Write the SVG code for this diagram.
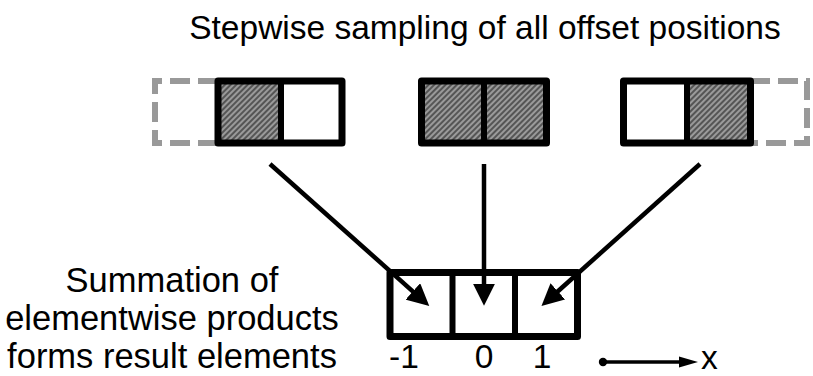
<svg xmlns="http://www.w3.org/2000/svg" width="813" height="376" viewBox="0 0 813 376">
  <style>
    text { font-family: "Liberation Sans", Arial, sans-serif; font-size: 33.5px; fill: #000; }
    .caption { font-size: 34.5px; }
    .cell { fill: none; stroke: #000; stroke-width: 7; stroke-linejoin: round; }
    .hatch { fill: url(#hatch); }
    .ghost { fill: none; stroke: #999; stroke-width: 6; stroke-dasharray: 20 8; }
    .divider { stroke: #000; stroke-width: 6; }
    .conn { stroke: #000; stroke-width: 4.5; fill: none; }
  </style>
  <defs>
    <pattern id="hatch" patternUnits="userSpaceOnUse" width="4" height="4" patternTransform="rotate(-45)">
      <rect width="4" height="4" fill="#555"/>
      <rect width="4" height="2" fill="#9a9a9a"/>
    </pattern>
    <marker id="head" markerUnits="userSpaceOnUse" viewBox="0 -11 22 22" markerWidth="22" markerHeight="22" refX="1" refY="0" orient="auto">
      <path d="M0,-11 L22,0 L0,11 Z" fill="#000"/>
    </marker>
    <marker id="axisHead" markerUnits="userSpaceOnUse" viewBox="0 -6 19 12" markerWidth="19" markerHeight="12" refX="1" refY="0" orient="auto">
      <path d="M0,-5.5 L19,0 L0,5.5 Z" fill="#000"/>
    </marker>
  </defs>

  <text id="title" x="485" y="39" text-anchor="middle">Stepwise sampling of all offset positions</text>

  <!-- kernel shifted left: ghost cell beyond the edge -->
  <g id="kernel-left">
    <path class="ghost" d="M218,81 H155 V143 H218"/>
    <rect class="hatch" x="218" y="81" width="63" height="62"/>
    <rect class="cell" x="218" y="81" width="124" height="62"/>
    <line class="divider" x1="281" y1="81" x2="281" y2="143"/>
  </g>

  <!-- kernel centred -->
  <g id="kernel-centre">
    <rect class="hatch" x="421.5" y="81" width="125" height="62"/>
    <rect class="cell" x="421.5" y="81" width="125" height="62"/>
    <line class="divider" x1="484" y1="81" x2="484" y2="143"/>
  </g>

  <!-- kernel shifted right: ghost cell beyond the edge -->
  <g id="kernel-right">
    <path class="ghost" d="M750,81 H807 V143 H750"/>
    <rect class="hatch" x="687" y="81" width="63.5" height="62"/>
    <rect class="cell" x="623.5" y="81" width="127" height="62"/>
    <line class="divider" x1="687" y1="81" x2="687" y2="143"/>
  </g>

  <!-- result vector -->
  <g id="result">
    <rect class="cell" x="390" y="272.5" width="187.5" height="64" style="fill:#fff"/>
    <line class="divider" x1="452.5" y1="272.5" x2="452.5" y2="336.5"/>
    <line class="divider" x1="515" y1="272.5" x2="515" y2="336.5"/>
  </g>

  <g id="connectors">
    <line class="conn" x1="270" y1="164" x2="413.6" y2="292.1" marker-end="url(#head)"/>
    <line class="conn" x1="484" y1="164" x2="484" y2="284.7" marker-end="url(#head)"/>
    <line class="conn" x1="700" y1="164" x2="557.1" y2="292" marker-end="url(#head)"/>
  </g>

  <g id="caption">
    <text class="caption" x="172" y="292" text-anchor="middle">Summation of</text>
    <text class="caption" x="172" y="330" text-anchor="middle">elementwise products</text>
    <text class="caption" x="172" y="368" text-anchor="middle">forms result elements</text>
  </g>

  <g id="indices">
    <text x="404" y="368" text-anchor="middle">-1</text>
    <text x="484" y="368" text-anchor="middle">0</text>
    <text x="542" y="368" text-anchor="middle">1</text>
  </g>

  <g id="axis">
    <circle cx="603" cy="362" r="4.2" fill="#000"/>
    <line x1="603" y1="362" x2="680" y2="362" stroke="#000" stroke-width="3.3" marker-end="url(#axisHead)"/>
    <text x="701" y="369">x</text>
  </g>
</svg>
